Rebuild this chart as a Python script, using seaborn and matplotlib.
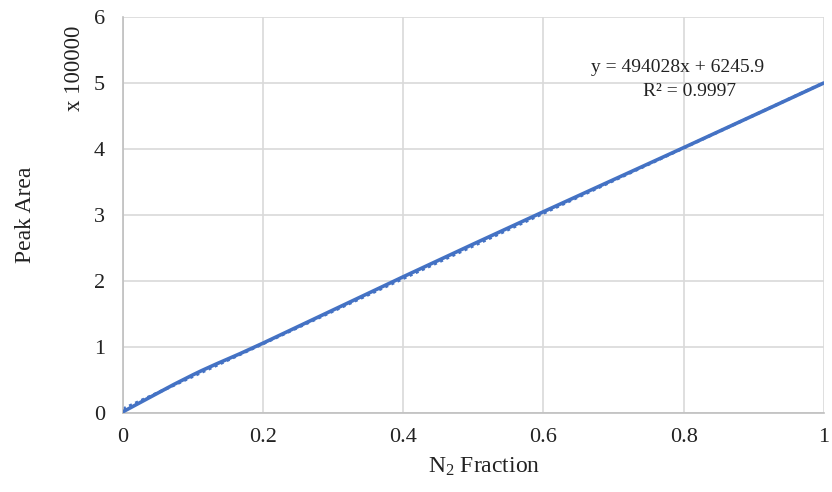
import numpy as np
import pandas as pd
import matplotlib
matplotlib.use("Agg")
import matplotlib.pyplot as plt
from matplotlib.path import Path
from matplotlib.patches import PathPatch
import seaborn as sns

# Calibration data: N2 fraction vs. peak area (in units of 100000)
n2_fraction = [0.0, 0.1, 0.2, 0.4, 0.6, 0.8, 1.0]
peak_area = [0.02, 0.58, 1.06, 2.065, 3.05, 4.02, 5.0]

# Linear trendline reported for the calibration
slope = 494028.0
intercept = 6245.9
r_squared = 0.9997
scale = 100000.0

x_ticks = [0, 0.2, 0.4, 0.6, 0.8, 1]
x_tick_labels = ["0", "0.2", "0.4", "0.6", "0.8", "1"]
y_ticks = [0, 1, 2, 3, 4, 5, 6]

sns.set_theme(style="white")
plt.rcParams["font.family"] = ["Liberation Serif", "DejaVu Serif"]
plt.rcParams["mathtext.fontset"] = "custom"
plt.rcParams["mathtext.rm"] = "Liberation Serif"
plt.rcParams["mathtext.it"] = "Liberation Serif:italic"

fig = plt.figure(figsize=(8.32, 4.92), dpi=100)
ax = fig.add_axes([0.148, 0.1606, 0.842, 0.8048])

line_color = "#4472C4"
grid_color = "#D9D9D9"
text_color = "#222222"

# Smoothed series line (cubic Bezier segments through the data points)
xs = np.asarray(n2_fraction)
ys = np.asarray(peak_area)
verts = [(xs[0], ys[0])]
codes = [Path.MOVETO]
n = len(xs)
for i in range(n - 1):
    p0 = np.array([xs[max(i - 1, 0)], ys[max(i - 1, 0)]])
    p1 = np.array([xs[i], ys[i]])
    p2 = np.array([xs[i + 1], ys[i + 1]])
    p3 = np.array([xs[min(i + 2, n - 1)], ys[min(i + 2, n - 1)]])
    c1 = p1 + (p2 - p0) / 6.0
    c2 = p2 - (p3 - p1) / 6.0
    verts += [tuple(c1), tuple(c2), tuple(p2)]
    codes += [Path.CURVE4, Path.CURVE4, Path.CURVE4]
ax.add_patch(PathPatch(Path(verts, codes), facecolor="none",
                       edgecolor=line_color, lw=2.6, capstyle="round",
                       joinstyle="round", zorder=3))

# Dotted linear trendline from the reported fit
trend = pd.DataFrame({"x": [0.0, 1.0]})
trend["y"] = (slope * trend["x"] + intercept) / scale
sns.lineplot(data=trend, x="x", y="y", ax=ax, color=line_color,
             lw=2.2, linestyle=(0, (1, 1.2)), zorder=2)

ax.set_xlim(0, 1)
ax.set_ylim(0, 6)
ax.set_xticks(x_ticks)
ax.set_xticklabels(x_tick_labels)
ax.set_yticks(y_ticks)
ax.grid(True, color=grid_color, lw=1.2)
ax.set_axisbelow(True)
for side in ["top", "right"]:
    ax.spines[side].set_visible(False)
for side in ["left", "bottom"]:
    ax.spines[side].set_color("#BFBFBF")
    ax.spines[side].set_linewidth(1.2)
ax.tick_params(axis="both", length=0, labelsize=16, colors=text_color)
ax.tick_params(axis="x", pad=11)
ax.tick_params(axis="y", pad=13)

ax.set_xlabel(r"N$_\mathrm{2}$ Fraction", fontsize=17, color=text_color)
ax.xaxis.set_label_coords(0.515, -0.108)
ax.set_ylabel("Peak Area", fontsize=17, color=text_color)
ax.yaxis.set_label_coords(-0.124, 0.5)
fig.text(75 / 832, 1 - 68 / 492, "x 100000", rotation=90, fontsize=16.5,
         color=text_color, ha="center", va="center")

ax.text(0.791, 5.23, f"y = {slope:.0f}x + {intercept}", fontsize=14,
        color=text_color, ha="center", va="center")
ax.text(0.809, 4.87, f"R² = {r_squared}", fontsize=14, color=text_color,
        ha="center", va="center")

fig.savefig("out.png", dpi=100)
